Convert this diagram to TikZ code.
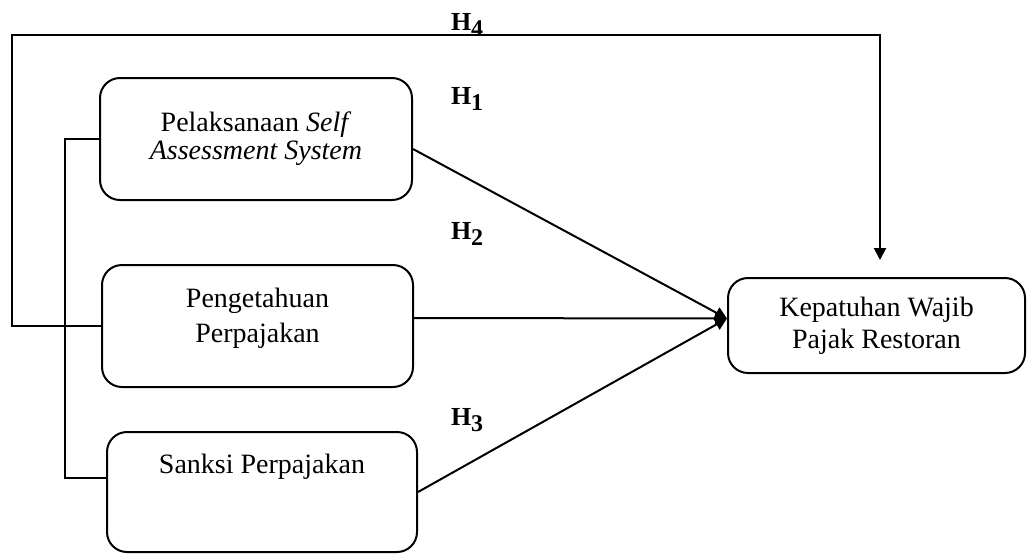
\documentclass[tikz,border=0pt]{standalone}
\usepackage{fontspec}
\setmainfont{Liberation Serif}
\usetikzlibrary{arrows.meta}
\newcommand{\hyp}[1]{\textbf{H\raisebox{-3pt}{\fontsize{12}{12}\selectfont #1}}}
\begin{document}
\begin{tikzpicture}
[
x=0.5pt, y=-0.5pt,
line width=1pt,
>={Triangle[length=6pt,width=6pt]},
var/.style={draw,rounded corners=10pt,align=center,inner sep=0pt,font=\fontsize{14}{16}\selectfont},
hlabel/.style={anchor=base west,inner sep=0pt,font=\fontsize{13}{13}\selectfont}
]
\useasboundingbox (0,0) rectangle (1027,553);
  % variables
  \node[var,minimum width=156pt,minimum height=61pt,font=\fontsize{14}{14}\selectfont] (sas) at (256,139)
    {Pelaksanaan \textit{Self}\\ \textit{Assessment System}};
  \node[var,minimum width=155.5pt,minimum height=61pt,font=\fontsize{14}{17.5}\selectfont,text height=27pt,text depth=11pt] (pp) at (257.5,326)
    {Pengetahuan\\ Perpajakan};
  \node[var,minimum width=155pt,minimum height=60pt,text height=9.5pt,text depth=28.5pt] (sp) at (262,492)
    {Sanksi Perpajakan};
  \node[var,minimum width=148.5pt,minimum height=47.5pt] (kwp) at (876.5,325.5)
    {Kepatuhan Wajib\\ Pajak Restoran};
  % hypotheses
  \node[hlabel] (h4) at (450,30) {\hyp{4}};
  \node[hlabel] (h1) at (450,104) {\hyp{1}};
  \node[hlabel] (h2) at (450,239) {\hyp{2}};
  \node[hlabel] (h3) at (450,425) {\hyp{3}};
  \coordinate (hub) at ([yshift=3.5pt]kwp.west);
  \coordinate (corner) at (12,35);
  \coordinate (h4end) at (880,260);
  \coordinate (spine) at (65,478);
  % connectors
  \draw[->] ([yshift=-5pt]sas.east) -- (hub);
  \draw[->] ([yshift=4pt]pp.east) -- (hub);
  \draw[->] (sp.east) -- (hub);
  \draw[->] (pp.west) -| (corner) -| (h4end);
  \draw (sas.west) -| (spine) -- ([yshift=7pt]sp.west);
\end{tikzpicture}
\end{document}
